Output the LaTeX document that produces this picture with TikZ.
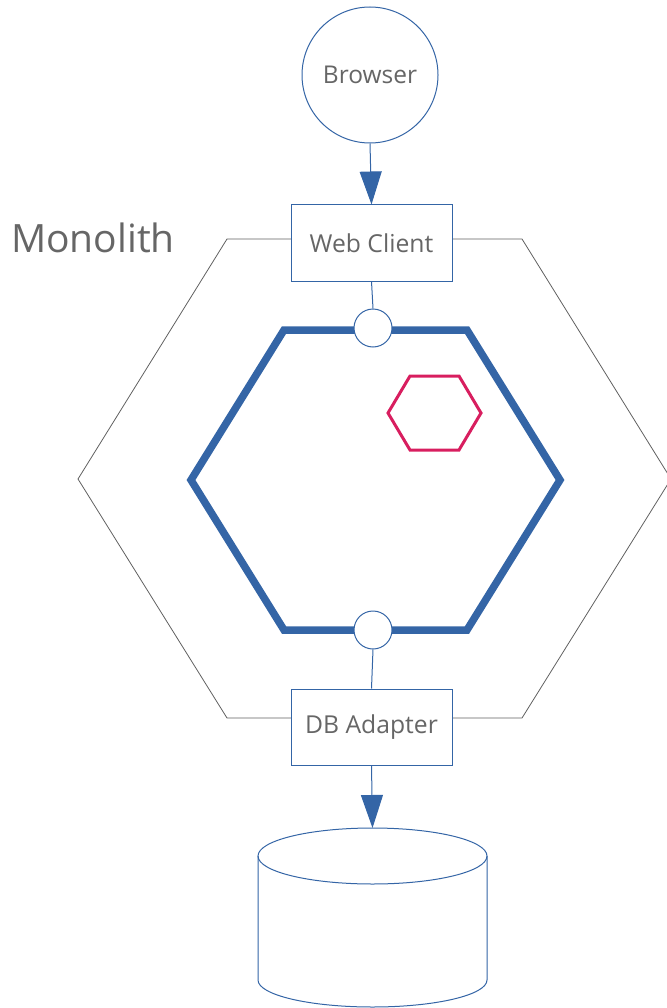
\documentclass[tikz,border=0pt]{standalone}
\usepackage{fontspec}
\setmainfont{Open Sans}
\usetikzlibrary{arrows.meta,shapes.geometric}
\definecolor{bblue}{HTML}{3465A6}
\definecolor{tgrey}{HTML}{666666}
\definecolor{hred}{HTML}{D81E5F}
\definecolor{lgrey}{HTML}{606060}
\begin{document}
\begin{tikzpicture}[x=1pt,y=-1pt,
  thinb/.style={draw=bblue,line width=1pt},
  boxst/.style={thinb,fill=white,minimum width=161pt,minimum height=76pt,inner sep=0pt,text=tgrey,font=\fontsize{24.7}{29}\selectfont},
  portc/.style={thinb,fill=white,circle,minimum size=38pt,inner sep=0pt},
  conn/.style={draw=bblue,line width=1pt},
  bigarrow/.style={conn,-{Triangle[width=22pt,length=33pt]}, color=bblue}
]
\useasboundingbox (0,0) rectangle (666,1008);
% outer hexagon
\draw[lgrey,line width=0.8pt] (227,239) -- (522,239) -- (671,479) -- (522,718) -- (227,718) -- (78,479) -- cycle;
% inner hexagon
\draw[bblue,line width=7.5pt,line join=miter] (284,330) -- (467,330) -- (560,480) -- (467,630) -- (284,630) -- (191,480) -- cycle;
% red hexagon
\draw[hred,line width=3pt] (410,376) -- (459,376) -- (481,413) -- (459,450) -- (410,450) -- (388,413) -- cycle;
% label
\node[text=tgrey,font=\fontsize{39}{45}\selectfont,anchor=base] (mono) at (93,252) {Monolith};
% nodes
\node[thinb,circle,fill=white,minimum size=136pt,inner sep=0pt,text=tgrey,font=\fontsize{24.5}{29}\selectfont] (browser) at (370,75) {Browser};
\node[boxst] (web) at (371.5,243) {Web Client};
\node[boxst] (db) at (371.5,727) {DB Adapter};
\node[portc] (p1) at (373,328) {};
\node[portc] (p2) at (373,630) {};
% cylinder
\coordinate (cyltop) at (372.5,828);
\draw[thinb,fill=white] (258,856) -- (258,980) arc[start angle=180,end angle=0,x radius=114.5,y radius=27] -- (487,856);
\draw[thinb] (372.5,856) ellipse[x radius=114.5,y radius=28];
% connectors
\draw[bigarrow] (browser.south) -- (web.north);
\draw[conn] (web.south) -- (p1.north);
\draw[conn] (p2.south) -- (db.north);
\draw[bigarrow] (db.south) -- (cyltop);
\end{tikzpicture}
\end{document}
